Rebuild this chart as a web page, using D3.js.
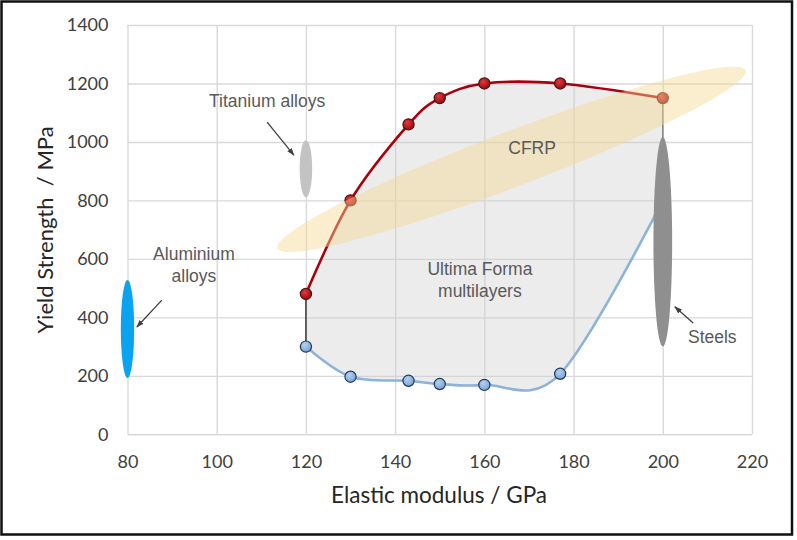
<!DOCTYPE html>
<html>
<head>
<meta charset="utf-8">
<script src="https://cdn.jsdelivr.net/npm/d3@7"></script>
<style>
  html, body { margin: 0; padding: 0; background: #fff; }
  svg { display: block; }
  text { white-space: pre; }
</style>
</head>
<body>
<svg id="chart" width="797" height="540"></svg>
<script>
// ---------- data ----------
const xTicks = [80, 100, 120, 140, 160, 180, 200, 220];
const yTicks = [0, 200, 400, 600, 800, 1000, 1200, 1400];

// Ultima Forma multilayers envelope: upper (red) and lower (blue) bounds
const upperModulus = [120, 130, 143, 150, 160, 177, 200];
const upperStrength = [480, 800, 1060, 1150, 1200, 1200, 1150];
const lowerModulus = [120, 130, 143, 150, 160, 177, 200];
const lowerStrength = [300, 197, 183, 172, 169, 207, 800];

// material property ellipses (modulus range, strength range)
const aluminiumModulus = [78.5, 81.5];
const aluminiumStrength = [193, 528];
const titaniumModulus = [118.6, 121.4];
const titaniumStrength = [811, 1006];
const steelModulus = [197.9, 202.1];
const steelStrength = [300, 1017];
// CFRP: major-axis end points (modulus, strength)
const cfrpAxisModulus = [113.6, 218.6];
const cfrpAxisStrength = [636, 1245];

// ---------- layout ----------
const svg = d3.select("#chart");
const x = d3.scaleLinear().domain([80, 220]).range([127.5, 752]);
const y = d3.scaleLinear().domain([0, 1400]).range([434.3, 25]);

const defs = svg.append("defs");
const rg = defs.append("radialGradient").attr("id", "gRed").attr("cx", "40%").attr("cy", "35%").attr("r", "65%");
rg.append("stop").attr("offset", "0%").attr("stop-color", "#e03a3f");
rg.append("stop").attr("offset", "100%").attr("stop-color", "#9a0a0e");
const bg = defs.append("radialGradient").attr("id", "gBlue").attr("cx", "40%").attr("cy", "35%").attr("r", "65%");
bg.append("stop").attr("offset", "0%").attr("stop-color", "#b5d0ee");
bg.append("stop").attr("offset", "100%").attr("stop-color", "#7aa4d4");
const mk = defs.append("marker").attr("id", "arrow").attr("viewBox", "0 0 10 10")
  .attr("refX", 9).attr("refY", 5).attr("markerWidth", 6).attr("markerHeight", 6)
  .attr("orient", "auto-start-reverse");
mk.append("path").attr("d", "M0,1.5 L10,5 L0,8.5 z").attr("fill", "#404040");

// frame
svg.append("rect").attr("x", 1.5).attr("y", 1.5).attr("width", 790.5).attr("height", 533)
  .attr("fill", "#fff").attr("stroke", "#111").attr("stroke-width", 2.5);

// gridlines
const gx = svg.append("g").attr("transform", `translate(0,${y(0)})`)
  .call(d3.axisBottom(x).tickValues(xTicks).tickSize(-(y(0) - y(1400))).tickFormat(""));
const gy = svg.append("g").attr("transform", `translate(${x(80)},0)`)
  .call(d3.axisLeft(y).tickValues(yTicks).tickSize(-(x(220) - x(80))).tickFormat(""));
[gx, gy].forEach(g => {
  g.select(".domain").remove();
  g.selectAll(".tick line").attr("stroke", "#d9d9d9").attr("stroke-width", 1.4);
});

// tick labels
const ax = svg.append("g").attr("transform", `translate(0,${y(0)})`)
  .call(d3.axisBottom(x).tickValues(xTicks).tickSize(0).tickPadding(21).tickFormat(d3.format("d")));
const ay = svg.append("g").attr("transform", `translate(${x(80)},0)`)
  .call(d3.axisLeft(y).tickValues(yTicks).tickSize(0).tickPadding(19).tickFormat(d3.format("d")));
[ax, ay].forEach(g => {
  g.select(".domain").remove();
  g.selectAll("text").attr("font-family", "Lato, 'Open Sans', sans-serif").attr("font-size", 18)
    .attr("fill", "#404040");
});

// axis titles
svg.append("text").attr("x", 439).attr("y", 503).attr("text-anchor", "middle")
  .attr("font-family", "Lato, 'Open Sans', sans-serif").attr("font-size", 22.5).attr("fill", "#262626")
  .text("Elastic modulus / GPa");
svg.append("text").attr("transform", "translate(53,230) rotate(-90)").attr("text-anchor", "middle")
  .attr("font-family", "Lato, 'Open Sans', sans-serif").attr("font-size", 22).attr("fill", "#262626")
  .text("Yield Strength  / MPa");

// envelope
const upper = upperModulus.map((m, i) => [x(m), y(upperStrength[i])]);
const lower = lowerModulus.map((m, i) => [x(m), y(lowerStrength[i])]);
const line = d3.line().curve(d3.curveCardinal.tension(0));
const upperD = line(upper);
const lowerRevD = line(lower.slice().reverse());
svg.append("path").attr("d", upperD + "L" + lowerRevD.slice(1) + "Z")
  .attr("fill", "rgb(205,205,205)").attr("fill-opacity", 0.38).attr("stroke", "none");

// vertical connectors
svg.append("line").attr("x1", x(120)).attr("x2", x(120)).attr("y1", y(upperStrength[0])).attr("y2", y(lowerStrength[0]))
  .attr("stroke", "#404040").attr("stroke-width", 1.6);
svg.append("line").attr("x1", x(200)).attr("x2", x(200)).attr("y1", y(upperStrength[6])).attr("y2", y(lowerStrength[6]))
  .attr("stroke", "#8a8a8a").attr("stroke-width", 1.6);

svg.append("path").attr("d", line(lower)).attr("fill", "none").attr("stroke", "#8db3d9").attr("stroke-width", 2.6);
svg.append("path").attr("d", upperD).attr("fill", "none").attr("stroke", "#a8000c").attr("stroke-width", 2.6);

svg.selectAll(".pl").data(lower.slice(0, 6)).join("circle").attr("class", "pl")
  .attr("cx", d => d[0]).attr("cy", d => d[1]).attr("r", 5.6)
  .attr("fill", "url(#gBlue)").attr("stroke", "#1f3a58").attr("stroke-width", 1.2);
svg.selectAll(".pu").data(upper).join("circle").attr("class", "pu")
  .attr("cx", d => d[0]).attr("cy", d => d[1]).attr("r", 5.6)
  .attr("fill", "url(#gRed)").attr("stroke", "#4d1414").attr("stroke-width", 1.2);

// CFRP ellipse (semi-transparent, on top)
const p1 = [x(cfrpAxisModulus[0]), y(cfrpAxisStrength[0])];
const p2 = [x(cfrpAxisModulus[1]), y(cfrpAxisStrength[1])];
const cc = [(p1[0] + p2[0]) / 2, (p1[1] + p2[1]) / 2];
const semiA = Math.hypot(p2[0] - p1[0], p2[1] - p1[1]) / 2;
const ang = Math.atan2(p2[1] - p1[1], p2[0] - p1[0]) * 180 / Math.PI;
svg.append("ellipse").attr("transform", `translate(${cc[0]},${cc[1]}) rotate(${ang})`)
  .attr("rx", semiA).attr("ry", semiA * 0.11)
  .attr("fill", "rgb(247,218,148)").attr("fill-opacity", 0.45);

// other material ellipses
function matEllipse(mod, str, color) {
  svg.append("ellipse")
    .attr("cx", x((mod[0] + mod[1]) / 2)).attr("cy", y((str[0] + str[1]) / 2))
    .attr("rx", (x(mod[1]) - x(mod[0])) / 2).attr("ry", (y(str[0]) - y(str[1])) / 2)
    .attr("fill", color);
}
matEllipse(titaniumModulus, titaniumStrength, "#c3c3c3");
matEllipse(steelModulus, steelStrength, "#8f8f8f");
matEllipse(aluminiumModulus, aluminiumStrength, "#0aa3ef");

// annotations
const labelFont = "'Liberation Sans', Arial, sans-serif";
function label(txt, mx, sy) {
  svg.append("text").attr("x", x(mx)).attr("y", y(sy)).attr("text-anchor", "middle")
    .attr("font-family", labelFont).attr("font-size", 17.5).attr("fill", "#595959").text(txt);
}
label("Titanium alloys", 111.3, 1119);
label("Aluminium", 94.9, 596);
label("alloys", 94.9, 521);
label("CFRP", 170.7, 958);
label("Ultima Forma", 159, 545);
label("multilayers", 159, 470);
label("Steels", 211.1, 312);

function arrow(m1, s1, m2, s2) {
  svg.append("line").attr("x1", x(m1)).attr("y1", y(s1)).attr("x2", x(m2)).attr("y2", y(s2))
    .attr("stroke", "#404040").attr("stroke-width", 1.3).attr("marker-end", "url(#arrow)");
}
arrow(111.3, 1068, 117.3, 955);
arrow(87.7, 459, 82.1, 367);
arrow(206.8, 381, 202.7, 436);
</script>
</body>
</html>
